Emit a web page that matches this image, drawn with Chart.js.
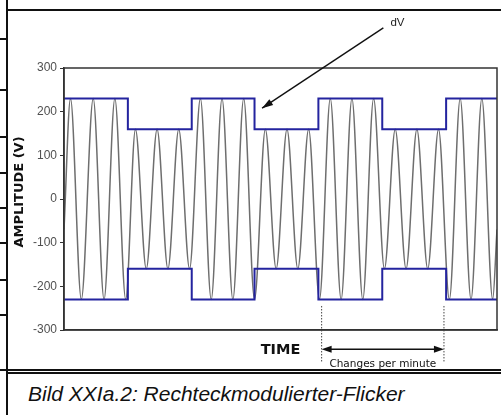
<!DOCTYPE html>
<html>
<head>
<meta charset="utf-8">
<script src="https://cdn.jsdelivr.net/npm/chart.js@4"></script>
<style>
  body { margin: 0; background: #fff; }
  #page { position: relative; width: 501px; height: 415px; overflow: hidden; background: #fff; }
  .rule { position: absolute; background: #111; }
  #chart { position: absolute; left: 8px; top: 12px; }
  #caption { position: absolute; left: 28px; top: 382px; font: italic 21px "Liberation Sans", Arial, sans-serif;
             line-height: 24px; color: #111; white-space: nowrap; }
</style>
</head>
<body>
<div id="page">
  <div class="rule" style="left:6px;top:0;width:2px;height:415px"></div>
  <div class="rule" style="left:6px;top:9px;width:495px;height:2px"></div>
  <div class="rule" style="left:0;top:38px;width:7px;height:1.5px"></div>
  <div class="rule" style="left:0;top:89px;width:7px;height:1.5px"></div>
  <div class="rule" style="left:0;top:136px;width:7px;height:1.5px"></div>
  <div class="rule" style="left:0;top:172px;width:7px;height:1.5px"></div>
  <div class="rule" style="left:0;top:207px;width:7px;height:1.5px"></div>
  <div class="rule" style="left:0;top:242px;width:7px;height:1.5px"></div>
  <div class="rule" style="left:0;top:279px;width:7px;height:1.5px"></div>
  <div class="rule" style="left:0;top:314px;width:7px;height:1.5px"></div>
  <div class="rule" style="left:0;top:369px;width:501px;height:1.5px"></div>
  <div class="rule" style="left:7px;top:372px;width:494px;height:1.5px"></div>
  <canvas id="chart" width="493" height="357"></canvas>
  <div id="caption">Bild XXIa.2: Rechteckmodulierter-Flicker</div>
</div>

<script>
// Zeit in ms, Amplitude in V
const waveT = [0, 6, 16, 27, 37, 47, 57, 66, 76, 86, 96, 106, 116, 126, 136, 146, 156, 166, 176, 186,
               196, 206, 216, 226, 236, 246, 256, 266, 276, 286, 296, 306, 316, 326, 336, 346, 356, 366, 376, 386, 396, 400];
const waveV = [-70, 230, -230, 230, -230, 230, -230, 160, -160, 160, -160, 160, -160, 230, -230, 230, -230, 230, -230, 160,
               -160, 160, -160, 160, -230, 230, -230, 230, -230, 230, -160, 160, -160, 160, -160, 160, -230, 230, -230, 230, -230, -70];

// Huellkurve (Rechteck)
const envT = [0, 59, 118, 176, 235, 294, 353, 400];
const envUpper = [230, 160, 230, 160, 230, 160, 230, 230];
const envLower = [-230, -160, -230, -160, -230, -160, -230, -230];

const yTicks = [-300, -200, -100, 0, 100, 200, 300];

// Beschriftungen (in Datenkoordinaten)
const dvArrow = { from: [295, 392], to: [183, 208], label: [308, 403] };
const span = { from: 238, to: 351, y: -344, top: -245, bottom: -373, labelY: -378 };
const yTitlePos = 16;

const blue = '#24249f';
const grey = '#6e6e6e';

function toPoints(xs, ys) {
  return xs.map((x, i) => ({ x: x, y: ys[i] }));
}

function arrowHead(ctx, x0, y0, x1, y1, len, wid) {
  const a = Math.atan2(y1 - y0, x1 - x0);
  const bx = x1 - len * Math.cos(a), by = y1 - len * Math.sin(a);
  ctx.beginPath();
  ctx.moveTo(x1, y1);
  ctx.lineTo(bx + wid * Math.sin(a), by - wid * Math.cos(a));
  ctx.lineTo(bx - wid * Math.sin(a), by + wid * Math.cos(a));
  ctx.closePath();
  ctx.fill();
}

const overlay = {
  id: 'overlay',
  afterDraw(chart) {
    const { ctx, chartArea: a, scales: { x, y } } = chart;
    ctx.save();

    // Rahmen ums Diagramm
    ctx.strokeStyle = '#333';
    ctx.lineWidth = 1.5;
    ctx.strokeRect(a.left, a.top, a.right - a.left, a.bottom - a.top);

    // dV Pfeil
    const x0 = x.getPixelForValue(dvArrow.from[0]), y0 = y.getPixelForValue(dvArrow.from[1]);
    const x1 = x.getPixelForValue(dvArrow.to[0]), y1 = y.getPixelForValue(dvArrow.to[1]);
    ctx.strokeStyle = '#111';
    ctx.fillStyle = '#111';
    ctx.lineWidth = 1.4;
    ctx.beginPath();
    ctx.moveTo(x0, y0);
    ctx.lineTo(x1, y1);
    ctx.stroke();
    arrowHead(ctx, x0, y0, x1, y1, 11, 3.5);

    ctx.fillStyle = '#222';
    ctx.font = '11.5px "Liberation Sans", Arial, sans-serif';
    ctx.textAlign = 'center';
    ctx.textBaseline = 'middle';
    ctx.fillText('dV', x.getPixelForValue(dvArrow.label[0]), y.getPixelForValue(dvArrow.label[1]));

    // gestrichelte Linien
    const sx0 = x.getPixelForValue(span.from), sx1 = x.getPixelForValue(span.to);
    const top = y.getPixelForValue(span.top), bot = y.getPixelForValue(span.bottom);
    ctx.strokeStyle = '#444';
    ctx.lineWidth = 1;
    ctx.setLineDash([1.5, 1.5]);
    [sx0, sx1].forEach(sx => {
      ctx.beginPath();
      ctx.moveTo(sx, top);
      ctx.lineTo(sx, bot);
      ctx.stroke();
    });
    ctx.setLineDash([]);

    // Doppelpfeil
    const ay = y.getPixelForValue(span.y);
    ctx.strokeStyle = '#111';
    ctx.fillStyle = '#111';
    ctx.lineWidth = 1.5;
    ctx.beginPath();
    ctx.moveTo(sx0 + 4, ay);
    ctx.lineTo(sx1 - 4, ay);
    ctx.stroke();
    arrowHead(ctx, sx1, ay, sx0, ay, 10, 3.5);
    arrowHead(ctx, sx0, ay, sx1, ay, 10, 3.5);

    ctx.fillStyle = '#111';
    ctx.font = '10.5px "DejaVu Sans", sans-serif';
    ctx.fillText('Changes per minute', (sx0 + sx1) / 2, y.getPixelForValue(span.labelY));

    // Y-Achsentitel
    ctx.translate(y.left + 12, y.getPixelForValue(yTitlePos));
    ctx.rotate(-Math.PI / 2);
    ctx.font = 'bold 13px "DejaVu Sans", sans-serif';
    ctx.fillText('AMPLITUDE (V)', 0, 0);

    ctx.restore();
  }
};

new Chart(document.getElementById('chart'), {
  type: 'line',
  data: {
    datasets: [
      { data: toPoints(envT, envUpper), borderColor: blue, borderWidth: 2, stepped: true, pointRadius: 0 },
      { data: toPoints(envT, envLower), borderColor: blue, borderWidth: 2, stepped: true, pointRadius: 0 },
      { data: toPoints(waveT, waveV), borderColor: grey, borderWidth: 1.5, cubicInterpolationMode: 'monotone', pointRadius: 0 }
    ]
  },
  options: {
    responsive: false,
    animation: false,
    layout: { padding: { top: 56, right: 4, left: 0, bottom: 0 } },
    plugins: { legend: { display: false }, tooltip: { enabled: false } },
    scales: {
      x: {
        type: 'linear',
        min: 0,
        max: 400,
        ticks: { display: false },
        grid: { display: false },
        border: { display: true, color: '#333', width: 1.5 },
        title: {
          display: true,
          text: 'TIME',
          color: '#111',
          font: { family: '"DejaVu Sans", sans-serif', weight: 'bold', size: 14.5, lineHeight: 1 },
          padding: { top: 0, bottom: 12 }
        },
        afterFit: s => { s.height = 39; }
      },
      y: {
        min: -300,
        max: 300,
        afterBuildTicks: s => { s.ticks = yTicks.map(v => ({ value: v })); },
        ticks: { color: '#505050', padding: 3, font: { family: '"Liberation Sans", Arial, sans-serif', size: 12 } },
        grid: { drawOnChartArea: false, drawTicks: true, tickLength: 4, color: '#333' },
        border: { color: '#333', width: 1.5 },
        afterFit: s => { s.width = 56; }
      }
    }
  },
  plugins: [overlay]
});
</script>
</body>
</html>
